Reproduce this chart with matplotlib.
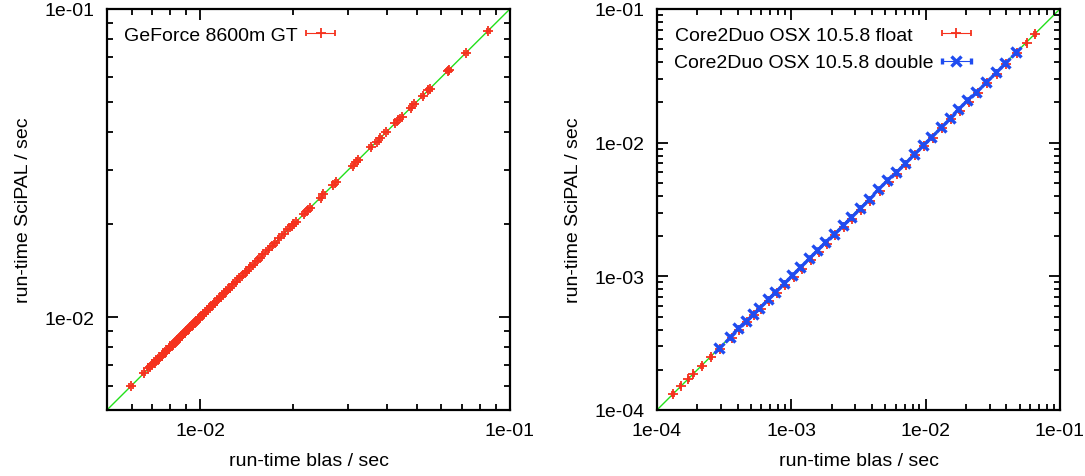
import matplotlib
matplotlib.use('Agg')
import matplotlib.pyplot as plt
from matplotlib.ticker import LogLocator, FuncFormatter, NullFormatter
from matplotlib.legend_handler import HandlerErrorbar

plt.rcParams['font.family'] = ['Liberation Sans', 'DejaVu Sans']
plt.rcParams['font.size'] = 14

# GeForce 8600m GT: run-time blas vs run-time SciPAL (sec)
gpu_blas = [0.00598, 0.00656, 0.00679, 0.0069, 0.0070, 0.00712, 0.0072, 0.00728,
            0.0074, 0.00752, 0.0076, 0.00768, 0.0078, 0.0079, 0.0080, 0.0081,
            0.0082, 0.0083, 0.0084, 0.0085, 0.0086, 0.0087, 0.0088, 0.0089,
            0.0090, 0.0091, 0.0092, 0.0093, 0.0094, 0.0095, 0.0096, 0.0097,
            0.0098, 0.0099, 0.0100, 0.0101, 0.0102, 0.0103, 0.0105, 0.0106,
            0.0108, 0.0110, 0.0111, 0.0113, 0.0115, 0.0117, 0.0119, 0.0121,
            0.0123, 0.0125, 0.0128, 0.0130, 0.0133, 0.0136, 0.0139, 0.0142,
            0.0145, 0.0148, 0.0152, 0.0156, 0.0160, 0.0165, 0.0170, 0.0175,
            0.0180, 0.0186, 0.0192, 0.0198, 0.0200, 0.0204, 0.0216, 0.0221,
            0.0226, 0.0245, 0.0250, 0.0269, 0.0275, 0.0311, 0.0319, 0.0324,
            0.0355, 0.0372, 0.0381, 0.0398, 0.0426, 0.0436, 0.0447, 0.0478,
            0.0490, 0.0523, 0.0545, 0.0552, 0.0629, 0.0636, 0.0721, 0.0851]
gpu_scipal = [0.00597, 0.00658, 0.00683, 0.0069, 0.00703, 0.00708, 0.00724, 0.00725,
              0.00744, 0.00748, 0.00764, 0.00765, 0.00784, 0.00787, 0.00804, 0.00806,
              0.00825, 0.00826, 0.00844, 0.00846, 0.00865, 0.00866, 0.00884, 0.00886,
              0.00905, 0.00906, 0.00925, 0.00926, 0.00945, 0.00946, 0.00965, 0.00966,
              0.00985, 0.00986, 0.01005, 0.01006, 0.01025, 0.01026, 0.01055, 0.01056,
              0.01085, 0.01096, 0.01116, 0.01126, 0.01156, 0.01166, 0.01196, 0.01206,
              0.01236, 0.01246, 0.01286, 0.01296, 0.01336, 0.01356, 0.01396, 0.01416,
              0.01456, 0.01476, 0.01526, 0.01556, 0.01606, 0.01646, 0.01706, 0.01746,
              0.01806, 0.01856, 0.01926, 0.01975, 0.02005, 0.02035, 0.02165, 0.02205,
              0.02265, 0.02445, 0.02505, 0.02685, 0.02755, 0.03105, 0.03195, 0.03235,
              0.03555, 0.03715, 0.03815, 0.03975, 0.04265, 0.04355, 0.04475, 0.04775,
              0.04905, 0.05225, 0.05455, 0.05515, 0.06295, 0.06355, 0.07215, 0.08505]

# Core2Duo OSX 10.5.8 float
cpu_f_blas = [1.32e-4, 1.50e-4, 1.71e-4, 1.87e-4, 2.16e-4, 2.53e-4, 2.95e-4, 3.6e-4,
              4.1e-4, 4.7e-4, 5.3e-4, 5.9e-4, 6.8e-4, 7.8e-4, 9.0e-4, 1.04e-3,
              1.2e-3, 1.4e-3, 1.6e-3, 1.84e-3, 2.12e-3, 2.47e-3, 2.83e-3, 3.3e-3,
              3.85e-3, 4.55e-3, 5.3e-3, 6.1e-3, 7.1e-3, 8.4e-3, 9.8e-3, 1.13e-2,
              1.33e-2, 1.55e-2, 1.8e-2, 2.1e-2, 2.45e-2, 2.87e-2, 3.4e-2, 3.98e-2,
              4.8e-2, 5.64e-2, 6.51e-2]
cpu_f_scipal = [1.32e-4, 1.50e-4, 1.70e-4, 1.86e-4, 2.14e-4, 2.50e-4, 2.88e-4, 3.48e-4,
                3.95e-4, 4.52e-4, 5.1e-4, 5.66e-4, 6.5e-4, 7.45e-4, 8.6e-4, 9.9e-4,
                1.14e-3, 1.33e-3, 1.52e-3, 1.75e-3, 2.02e-3, 2.35e-3, 2.7e-3, 3.15e-3,
                3.68e-3, 4.35e-3, 5.07e-3, 5.84e-3, 6.8e-3, 8.05e-3, 9.4e-3, 1.085e-2,
                1.28e-2, 1.49e-2, 1.73e-2, 2.02e-2, 2.36e-2, 2.77e-2, 3.28e-2, 3.85e-2,
                4.65e-2, 5.55e-2, 6.45e-2]

# Core2Duo OSX 10.5.8 double
cpu_d_blas = [2.90e-4, 3.51e-4, 4.04e-4, 4.59e-4, 5.18e-4, 5.77e-4, 6.66e-4, 7.6e-4,
              8.77e-4, 1.01e-3, 1.17e-3, 1.36e-3, 1.56e-3, 1.79e-3, 2.07e-3, 2.41e-3,
              2.76e-3, 3.22e-3, 3.76e-3, 4.44e-3, 5.18e-3, 5.97e-3, 6.97e-3, 8.18e-3,
              9.55e-3, 1.10e-2, 1.30e-2, 1.51e-2, 1.75e-2, 2.05e-2, 2.39e-2, 2.80e-2,
              3.33e-2, 3.89e-2, 4.70e-2]
cpu_d_scipal = [2.92e-4, 3.54e-4, 4.08e-4, 4.63e-4, 5.23e-4, 5.83e-4, 6.72e-4, 7.67e-4,
                8.86e-4, 1.02e-3, 1.18e-3, 1.37e-3, 1.58e-3, 1.81e-3, 2.09e-3, 2.43e-3,
                2.79e-3, 3.25e-3, 3.80e-3, 4.48e-3, 5.23e-3, 6.03e-3, 7.04e-3, 8.26e-3,
                9.64e-3, 1.11e-2, 1.31e-2, 1.52e-2, 1.77e-2, 2.07e-2, 2.41e-2, 2.83e-2,
                3.36e-2, 3.93e-2, 4.74e-2]

RED = '#f5321e'
BLUE = '#1f4cf0'
GREEN = '#22e01a'


def xerr(vals, frac):
    return [v * frac for v in vals]


def style(ax, lo, hi):
    ax.set_xscale('log')
    ax.set_yscale('log')
    ax.set_xlim(lo, hi)
    ax.set_ylim(lo, hi)
    ax.plot([lo, hi], [lo, hi], color=GREEN, lw=1, zorder=1)
    for axis in (ax.xaxis, ax.yaxis):
        axis.set_major_locator(LogLocator(base=10, numticks=10))
        axis.set_minor_locator(LogLocator(base=10, subs=range(2, 10), numticks=20))
        axis.set_major_formatter(FuncFormatter(lambda v, p: '%.0e' % v))
        axis.set_minor_formatter(NullFormatter())
    ax.tick_params(which='both', direction='in', top=True, right=True, width=1.3)
    ax.tick_params(which='major', length=8, pad=9)
    ax.tick_params(which='minor', length=4)
    for s in ax.spines.values():
        s.set_linewidth(1.6)
    ax.set_xlabel('run-time blas / sec', labelpad=9)
    ax.set_ylabel('run-time SciPAL / sec', labelpad=9)


leg_kw = dict(loc='upper left', frameon=False, markerfirst=False, handlelength=1.6,
              handletextpad=0.35, borderaxespad=0.5, labelspacing=0.5, fontsize=14)

fig = plt.figure(figsize=(10.85, 4.77), dpi=100)
ax1 = fig.add_axes([0.0986, 0.1384, 0.3714, 0.8407])
ax2 = fig.add_axes([0.6055, 0.1384, 0.3714, 0.8407])

style(ax1, 0.005, 0.1)
e1 = ax1.errorbar(gpu_blas, gpu_scipal, xerr=xerr(gpu_blas, 0.012), fmt='+', color=RED,
                  ms=7, mew=1.3, elinewidth=0.8, capsize=2, label='GeForce 8600m GT', zorder=3)
ax1.legend(handler_map={e1: HandlerErrorbar(xerr_size=0.75, marker_pad=0)}, **leg_kw)

style(ax2, 1e-4, 1e-1)
e2 = ax2.errorbar(cpu_f_blas, cpu_f_scipal, xerr=xerr(cpu_f_blas, 0.012), fmt='+', color=RED,
                  ms=7, mew=1.3, elinewidth=0.8, capsize=2,
                  label='Core2Duo OSX 10.5.8 float    ', zorder=3)
e3 = ax2.errorbar(cpu_d_blas, cpu_d_scipal, xerr=xerr(cpu_d_blas, 0.012), fmt='x', color=BLUE,
                  ms=7, mew=2.4, elinewidth=0.8, capsize=2,
                  label='Core2Duo OSX 10.5.8 double', zorder=4)
ax2.legend(handler_map={e2: HandlerErrorbar(xerr_size=0.75, marker_pad=0),
                        e3: HandlerErrorbar(xerr_size=0.75, marker_pad=0)}, **leg_kw)

fig.savefig('out.png', dpi=100)
